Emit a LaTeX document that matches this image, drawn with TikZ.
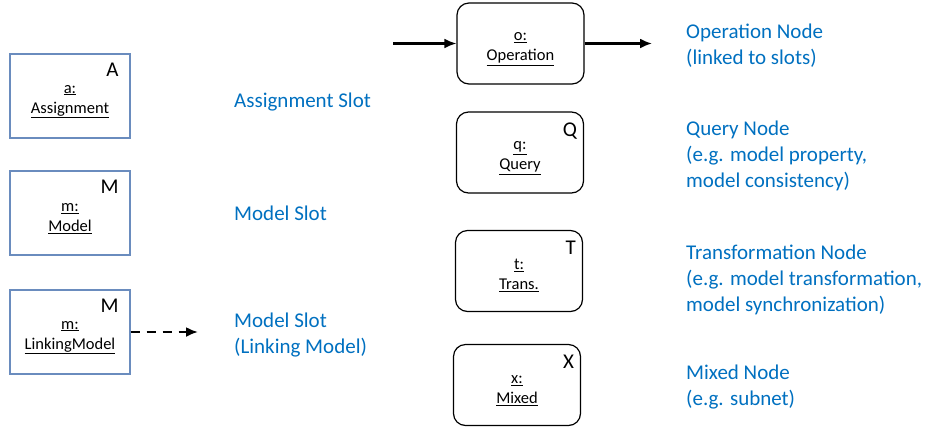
\documentclass[tikz,border=0pt]{standalone}
\usepackage{fontspec}
\setmainfont{Carlito}
\usetikzlibrary{arrows.meta}
\definecolor{slotblue}{RGB}{106,140,190}
\definecolor{descblue}{RGB}{0,112,192}
% two underlined lines, pushed down a little
\newcommand{\twoline}[2]{\rule{0pt}{19pt}\underline{#1:}\\\underline{#2}}

\begin{document}
\begin{tikzpicture}[x=1pt,y=-1pt,
    slotbox/.style={draw=slotblue, line width=1.4pt, minimum width=120pt, minimum height=84pt,
      align=center, inner sep=0pt, font=\fontsize{16.5}{20}\selectfont},
    opbox/.style={draw=black, line width=1.2pt, rounded corners=12pt, minimum width=127pt,
      minimum height=81pt, align=center, inner sep=0pt, font=\fontsize{16.5}{20}\selectfont},
    kind/.style={anchor=north east, inner sep=0pt, font=\fontsize{21}{21}\selectfont},
    desc/.style={anchor=base west, inner sep=0pt, align=left, text=descblue,
      font=\fontsize{21}{26}\selectfont},
    flow/.style={line width=2.2pt, -{Latex[length=12pt,width=10pt]}}]
    \useasboundingbox (0,0) rectangle (928,429);

    % slots
    \node [slotbox] (a) at (70,96) {\twoline{a}{Assignment}};
    \node [kind] (aK) at ([shift={(-12,10)}]a.north east) {A};
    \node [slotbox] (m) at (70,213) {\twoline{m}{Model}};
    \node [kind] (mK) at ([shift={(-12,10)}]m.north east) {M};
    \node [slotbox] (l) at (70,332) {\twoline{m}{LinkingModel}};
    \node [kind] (lK) at ([shift={(-12,10)}]l.north east) {M};
    % labels (base = last line)
    \node [desc] (aD) at (234,107) {Assignment Slot};
    \node [desc] (mD) at (234,220) {Model Slot};
    \node [desc] (lD) at (234,353) {Model Slot\\(Linking Model)};
    % dashed link
    \coordinate (lEnd) at (198,332);
    \draw [flow, dash pattern=on 9pt off 7pt] (l.east) -- (lEnd);

    % nodes
    \node [opbox] (o) at (520.5,43.5) {\twoline{o}{Operation}};
    \node [opbox] (q) at (520,152.5) {\twoline{q}{Query}};
    \node [kind] (qK) at ([shift={(-7,11)}]q.north east) {Q};
    \node [opbox] (t) at (519,271) {\twoline{t}{Trans.}};
    \node [kind] (tK) at ([shift={(-7,11)}]t.north east) {T};
    \node [opbox] (x) at (517,385) {\twoline{x}{Mixed}};
    \node [kind] (xK) at ([shift={(-7,11)}]x.north east) {X};
    % in / out
    \coordinate (oIn) at (393,43.5);
    \coordinate (oOut) at (652,43.5);
    \draw [flow] (oIn) -- (o.west);
    \draw [flow] (o.east) -- (oOut);
    % labels
    \node [desc] (oD) at (686,64) {Operation Node\\(linked to slots)};
    \node [desc] (qD) at (686,187) {Query Node\\(e.g. model property,\\model consistency)};
    \node [desc] (tD) at (686,311) {Transformation Node\\(e.g. model transformation,\\model synchronization)};
    \node [desc] (xD) at (686,405) {Mixed Node\\(e.g. subnet)};
\end{tikzpicture}
\end{document}
